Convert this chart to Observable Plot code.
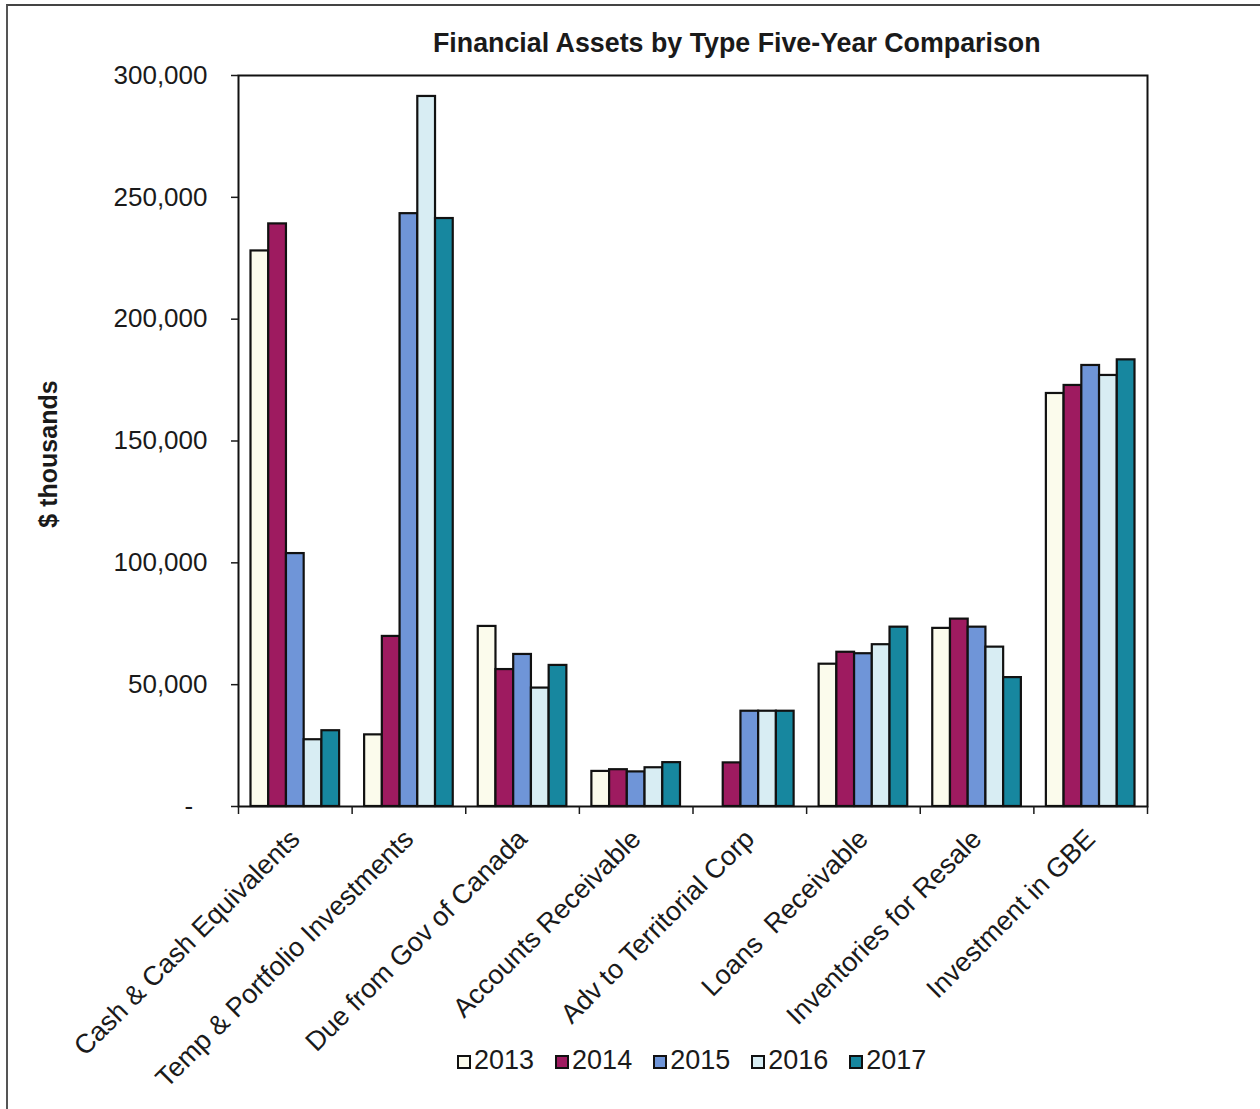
<!DOCTYPE html>
<html>
<head>
<meta charset="utf-8">
<script src="https://cdn.jsdelivr.net/npm/d3@7"></script>
<script src="https://cdn.jsdelivr.net/npm/@observablehq/plot@0.6"></script>
<style>
  html, body { margin: 0; padding: 0; background: #fff; }
  #page { position: relative; width: 1260px; height: 1109px; overflow: hidden; background: #fff;
          font-family: "Liberation Sans", Arial, sans-serif; color: #1a1a1a; }
  #border { position: absolute; left: 6px; top: 4px; right: -4px; bottom: -4px;
            border-top: 2px solid #444; border-left: 2px solid #555; }
  #title { position: absolute; left: 433px; top: 28px; font-size: 26.8px; font-weight: bold; white-space: nowrap; }
  #chart { position: absolute; left: 0; top: 0; }
  #chart svg text { white-space: pre; }
  #chart g[aria-label="x-axis tick label"] text { font-size: 27px; }
  #legend { position: absolute; left: 457px; top: 1045px; display: flex; gap: 21px; font-size: 27px; }
  .item { display: flex; align-items: center; }
  .sw { width: 10px; height: 10px; border: 2px solid #111; margin-right: 3px; margin-top: 3px; }
</style>
</head>
<body>
<div id="page">
  <div id="border"></div>
  <div id="chart"></div>
  <div id="title">Financial Assets by Type Five-Year Comparison</div>
  <div id="legend"></div>
</div>
<script>
// ---- data ----
const categories = ["Cash & Cash Equivalents", "Temp & Portfolio Investments", "Due from Gov of Canada",
  "Accounts Receivable", "Adv to Territorial Corp", "Loans  Receivable", "Inventories for Resale", "Investment in GBE"];
const years = ["2013", "2014", "2015", "2016", "2017"];
const v2013 = [228000, 29400, 73900, 14400, null, 58400, 73100, 169500];
const v2014 = [239100, 69800, 56200, 15100, 17900, 63300, 76900, 172800];
const v2015 = [103800, 243300, 62400, 14200, 39100, 62700, 73600, 181000];
const v2016 = [27400, 291400, 48600, 15900, 39100, 66400, 65400, 176900];
const v2017 = [31100, 241300, 57900, 18000, 39100, 73600, 52900, 183300];
const yTicks = [0, 50000, 100000, 150000, 200000, 250000, 300000];
const yLabel = "$ thousands";
const colors = ["#fbfbec", "#9e1b60", "#6f95d8", "#d8edf3", "#17879f"];

const series = [v2013, v2014, v2015, v2016, v2017];
const rows = [];
years.forEach((yr, yi) => series[yi].forEach((v, ci) => {
  if (v != null) rows.push({category: categories[ci], ci, year: yr, yi, value: v});
}));

const groupPad = 0.11;
const bw = (1 - 2 * groupPad) / years.length;

const chart = Plot.plot({
  width: 1260,
  height: 1109,
  marginTop: 75,
  marginBottom: 303,
  marginLeft: 238,
  marginRight: 113,
  style: {fontFamily: "'Liberation Sans', Arial, sans-serif", fontSize: "26px", color: "#1a1a1a", background: "transparent", overflow: "visible"},
  x: {type: "linear", domain: [0, categories.length], axis: null},
  y: {domain: [0, 300000], axis: null},
  color: {domain: years, range: colors},
  marks: [
    Plot.rectY(rows, {
      x1: d => d.ci + groupPad + d.yi * bw,
      x2: d => d.ci + groupPad + (d.yi + 1) * bw,
      y: "value",
      fill: "year",
      stroke: "#111",
      strokeWidth: 2.2
    }),
    Plot.frame({stroke: "#111", strokeWidth: 2}),
    Plot.axisY(yTicks, {
      tickSize: 7, tickPadding: 24, strokeWidth: 1.5,
      tickFormat: d => d === 0 ? "-\u00a0\u00a0" : d3.format(",")(d),
      label: null
    }),
    Plot.text([yLabel], {
      frameAnchor: "left", textAnchor: "middle", dx: -190, dy: 13, rotate: -90,
      fontWeight: "bold", fontSize: 25, fill: "#1a1a1a"
    }),
    Plot.axisX(d3.range(0, categories.length + 1), {tickSize: 8, strokeWidth: 1.5, tickFormat: () => "", label: null}),
    Plot.axisX(categories.map((c, i) => i + 0.5), {
      tickSize: 0, tickPadding: 28, tickRotate: -45,
      tickFormat: i => categories[Math.floor(i)], label: null
    })
  ]
});
document.getElementById("chart").appendChild(chart);

const legend = document.getElementById("legend");
years.forEach((yr, i) => {
  const item = document.createElement("div");
  item.className = "item";
  const sw = document.createElement("span");
  sw.className = "sw";
  sw.style.background = colors[i];
  const t = document.createElement("span");
  t.textContent = yr;
  item.appendChild(sw);
  item.appendChild(t);
  legend.appendChild(item);
});
</script>
</body>
</html>
